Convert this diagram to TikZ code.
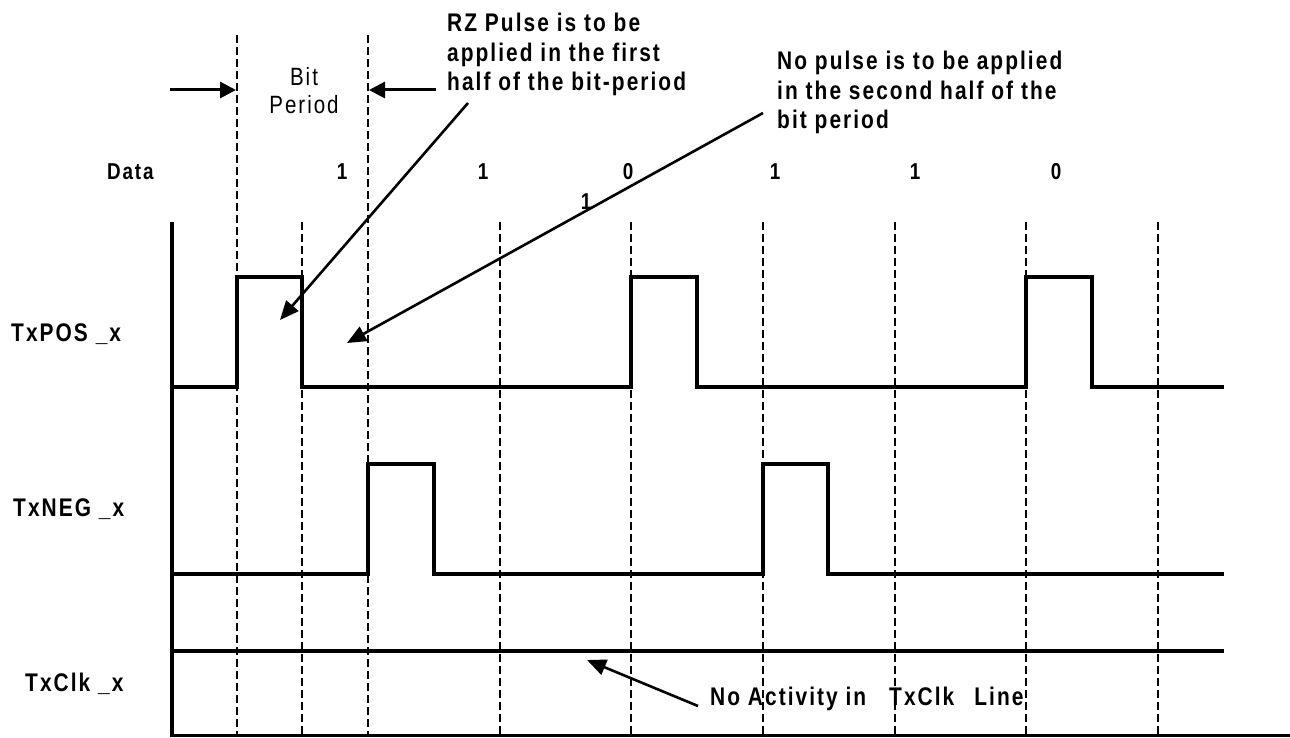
\documentclass[tikz,border=0pt]{standalone}
\usepackage{fontspec}
\setmainfont{Liberation Sans}
\newfontfamily\lblfont[FakeStretch=0.82,LetterSpace=8]{Liberation Sans}
\usetikzlibrary{arrows.meta}
\begin{document}
\begin{tikzpicture}[x=1pt,y=-1pt,
  sig/.style={line width=4pt, line join=miter},
  gridline/.style={line width=1.3pt, dash pattern=on 8pt off 4pt},
  pointer/.style={line width=2.6pt, -{Triangle[length=19pt,width=16pt]}},
  bitptr/.style={line width=3pt, -{Triangle[length=16pt,width=16pt]}},
  lbl/.style={font=\lblfont\bfseries\fontsize{25.5}{29.5}\selectfont, inner sep=0pt},
  dat/.style={font=\lblfont\bfseries\fontsize{23}{25}\selectfont, inner sep=0pt},
  reg/.style={font=\lblfont\fontsize{25}{28}\selectfont, inner sep=0pt}]
\fill[white] (0,0) rectangle (1290,738);
\useasboundingbox (0,0) rectangle (1290,738);

% dashed bit boundaries
\foreach \x in {302,500,631,763,895,1026,1158}
  \draw[gridline] (\x,222) -- (\x,737);
\foreach \x in {237,368}
  \draw[gridline] (\x,35) -- (\x,737);

% axes
\draw[line width=4pt] (172,222) -- (172,737);
\draw[line width=3pt] (172,735.5) -- (1290,735.5);

% signals
\draw[sig] (172,387) -- (237,387) -- (237,277) -- (302,277) -- (302,387) -- (631,387) -- (631,277) -- (697,277) -- (697,387) -- (1026,387) -- (1026,277) -- (1092,277) -- (1092,387) -- (1224,387);
\draw[sig] (172,574) -- (368,574) -- (368,464) -- (434,464) -- (434,574) -- (763,574) -- (763,464) -- (828,464) -- (828,574) -- (1224,574);
\draw[sig] (172,651) -- (1224,651);

% signal labels
\node[lbl, anchor=base west] (pos) at (11,341.7) {TxPOS \_x};
\node[lbl, anchor=base west] (neg) at (13,516.7) {TxNEG \_x};
\node[lbl, anchor=base west] (clk) at (25,691.7) {TxClk \_x};

% data row
\node[dat, anchor=base west] (data) at (107,179.3) {Data};
\node[dat, anchor=base] (d1) at (342,180) {1};
\node[dat, anchor=base] (d2) at (483,180) {1};
\node[dat, anchor=base] (d3) at (628,180) {0};
\node[dat, anchor=base] (d4) at (775,180) {1};
\node[dat, anchor=base] (d5) at (915,180) {1};
\node[dat, anchor=base] (d6) at (1056,180) {0};
\node[dat, anchor=base] (dx) at (586,210) {1};

% bit period
\node[reg, align=center] (bp) at (304,91) {Bit\\Period};
\coordinate (blTail) at (170,90);
\coordinate (blTip) at (236,90);
\coordinate (brTail) at (436,90);
\coordinate (brTip) at (369,90);
\draw[bitptr] (blTail) -- (blTip);
\draw[bitptr] (brTail) -- (brTip);

% annotations
\node[lbl, anchor=north west, align=left] (rz) at (447,13) {RZ Pulse is to be\\applied in the first\\half of the bit-period};
\node[lbl, anchor=north west, align=left] (np) at (777,51) {No pulse is to be applied\\in the second half of the\\bit period};
\node[lbl, anchor=base west] (na) at (710,705) {No Activity in\hspace{23pt}TxClk\hspace{20pt}Line};

\coordinate (rzTail) at (468,103);
\coordinate (rzTip) at (280,320);
\coordinate (npTail) at (763,113);
\coordinate (npTip) at (347,343);
\coordinate (naTail) at (698,706);
\coordinate (naTip) at (587,660);
\draw[pointer] (rzTail) -- (rzTip);
\draw[pointer] (npTail) -- (npTip);
\draw[pointer] (naTail) -- (naTip);
\end{tikzpicture}
\end{document}
